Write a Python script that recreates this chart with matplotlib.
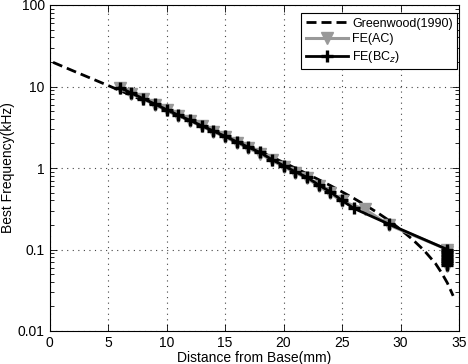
import matplotlib
matplotlib.use("Agg")
import matplotlib.pyplot as plt
from matplotlib.ticker import FixedLocator, FuncFormatter, LogLocator, NullFormatter

plt.rcParams['font.family'] = ['Liberation Sans', 'DejaVu Sans']

# Greenwood(1990) map
gw_x = [0.3, 2, 5, 8, 10, 12, 15, 18, 20, 22, 24, 25, 26, 27, 28, 29, 30, 31, 32, 33, 33.5, 34, 34.5]
gw_f = [19.8, 15.6, 10.3, 6.75, 5.08, 3.82, 2.48, 1.59, 1.17, 0.85, 0.61, 0.51, 0.425, 0.35,
        0.285, 0.228, 0.176, 0.134, 0.098, 0.067, 0.052, 0.039, 0.027]

# FE(AC)
ac_x = [6, 7, 8, 9, 10, 11, 12, 13, 14, 15, 16, 17, 18, 19, 20, 21, 22, 23, 24, 25,
        27, 29, 34, 34, 34, 34, 34, 34, 34]
ac_f = [9.5, 8.2, 7.0, 6.0, 5.1, 4.4, 3.8, 3.25, 2.8, 2.4, 2.05, 1.75, 1.5, 1.24, 1.04,
        0.88, 0.75, 0.6, 0.49, 0.39, 0.31, 0.2, 0.1, 0.092, 0.085, 0.078, 0.072, 0.066, 0.062]

# FE(BCz)
bc_x = [6, 7, 8, 9, 10, 11, 12, 13, 14, 15, 16, 17, 18, 19, 20, 21, 22, 23, 24, 25,
        26, 29, 34, 34, 34, 34, 34, 34, 34]
bc_f = [9.7, 8.3, 7.1, 6.1, 5.2, 4.45, 3.85, 3.3, 2.85, 2.45, 2.1, 1.8, 1.55, 1.27, 1.07,
        0.9, 0.77, 0.62, 0.51, 0.40, 0.32, 0.205, 0.1, 0.093, 0.086, 0.079, 0.073, 0.068, 0.064]

fig = plt.figure(figsize=(4.68, 3.64), dpi=100)
ax = fig.add_axes([49.5 / 468, 1 - 331 / 364, (459 - 49.5) / 468, (331 - 5) / 364])

ax.plot(gw_x, gw_f, color='black', lw=2, linestyle=(0, (3.6, 1.8)), label='Greenwood(1990)')
ax.plot(ac_x, ac_f, color='#999999', lw=2.2, marker='v', markersize=9,
        markerfacecolor='#999999', markeredgecolor='#999999', label='FE(AC)')
ax.plot(bc_x, bc_f, color='black', lw=2, marker='+', markersize=8, markeredgewidth=2.4,
        label='FE(BC$_z$)')

ax.set_yscale('log')
ax.set_xlim(0, 35)
ax.set_ylim(0.01, 100)
ax.xaxis.set_major_locator(FixedLocator([0, 5, 10, 15, 20, 25, 30, 35]))
ax.yaxis.set_major_locator(FixedLocator([0.01, 0.1, 1, 10, 100]))
ax.yaxis.set_major_formatter(FuncFormatter(lambda v, p: '%g' % v))
ax.yaxis.set_minor_locator(LogLocator(base=10, subs=range(2, 10), numticks=20))
ax.yaxis.set_minor_formatter(NullFormatter())

ax.tick_params(which='both', direction='in', top=True, right=True, labelsize=10)
ax.tick_params(which='major', length=5, width=0.6)
ax.tick_params(which='minor', length=3, width=0.6)
ax.grid(True, which='major', linestyle=(0, (1, 4)), color='#444444', lw=0.8)
for s in ax.spines.values():
    s.set_linewidth(0.8)

ax.set_xlabel('Distance from Base(mm)', fontsize=10, labelpad=1)
ax.set_ylabel('Best Frequency(kHz)', fontsize=10, labelpad=2)

leg = ax.legend(loc='upper right', bbox_to_anchor=(0.995, 0.975), borderaxespad=0,
                fancybox=False, edgecolor='black', framealpha=1, fontsize=9,
                handlelength=3.4, handletextpad=0.3, borderpad=0.35, labelspacing=0.3)
leg.get_frame().set_linewidth(0.8)

fig.savefig('out.png', dpi=100)
